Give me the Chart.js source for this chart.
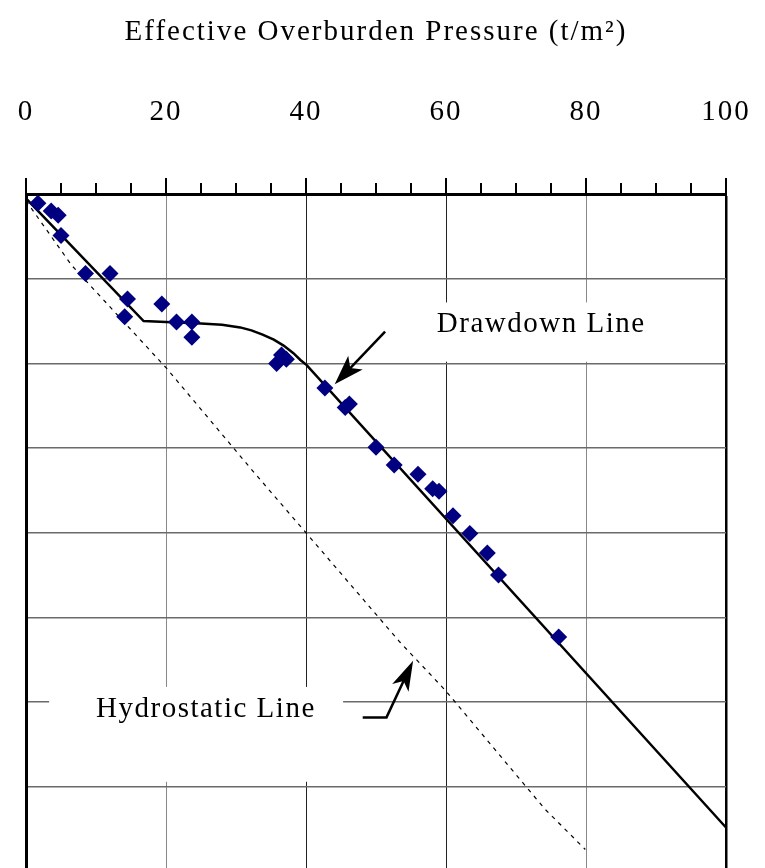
<!DOCTYPE html>
<html>
<head>
<meta charset="utf-8">
<script src="https://cdn.jsdelivr.net/npm/chart.js@4"></script>
<style>
  html, body { margin: 0; padding: 0; overflow: hidden; background: #fff; }
  #wrap { width: 765px; height: 868px; overflow: hidden; }
</style>
</head>
<body>
<div id="wrap"><canvas id="chart" width="765" height="880"></canvas></div>
<script>
// effective overburden pressure (t/m2) vs depth (m)
const measuredPressure = [1.7, 3.6, 4.6, 5.0, 8.5, 12.0, 14.5, 14.1, 19.4, 21.5, 23.7, 23.7,
  36.5, 35.8, 37.2, 42.7, 45.6, 46.2, 50.0, 52.6, 56.0, 58.1, 59.0, 61.0, 63.4, 65.9, 67.5, 76.1];
const measuredDepth = [1.1, 2.0, 2.5, 4.9, 9.4, 9.4, 12.4, 14.5, 13.0, 15.1, 15.1, 16.9,
  19.0, 20.0, 19.5, 22.9, 25.2, 24.8, 29.9, 32.0, 33.1, 34.8, 35.1, 38.0, 40.1, 42.4, 45.0, 52.3];

const drawdownPressure = [0.1, 16.8, 20.0, 25.0, 28.0, 30.6, 32.2, 33.8, 35.4, 36.8, 38.2, 39.2, 40.1, 100];
const drawdownDepth = [0.6, 15.0, 15.1, 15.3, 15.45, 15.75, 16.1, 16.6, 17.2, 17.9, 18.8, 19.6, 20.2, 74.8];

const hydroPressure = [0, 6.5, 20.1, 32.7, 40.0, 53.4, 59.9, 74.1, 79.9];
const hydroDepth = [0.8, 8.4, 20.6, 33.0, 40.0, 52.9, 58.6, 72.6, 77.4];

const pressureLabels = [0, 20, 40, 60, 80, 100];

const FONT = '"Liberation Serif", "Times New Roman", serif';

function toPoints(xs, ys) {
  return xs.map(function(x, i) {
    return { x: x, y: ys[i] };
  });
}

function arrow(ctx, pts, headLen, headW) {
  // pts: pixel points, last one is the tip
  const tip = pts[pts.length - 1];
  const prev = pts[pts.length - 2];
  const ang = Math.atan2(tip.y - prev.y, tip.x - prev.x);
  const bx = tip.x - Math.cos(ang) * headLen * 0.75;
  const by = tip.y - Math.sin(ang) * headLen * 0.75;
  ctx.beginPath();
  ctx.moveTo(pts[0].x, pts[0].y);
  for (let i = 1; i < pts.length - 1; i++) ctx.lineTo(pts[i].x, pts[i].y);
  ctx.lineTo(bx, by);
  ctx.stroke();
  const cx = tip.x - Math.cos(ang) * headLen;
  const cy = tip.y - Math.sin(ang) * headLen;
  ctx.beginPath();
  ctx.moveTo(tip.x, tip.y);
  ctx.lineTo(cx - Math.sin(ang) * headW, cy + Math.cos(ang) * headW);
  ctx.lineTo(bx, by);
  ctx.lineTo(cx + Math.sin(ang) * headW, cy - Math.cos(ang) * headW);
  ctx.closePath();
  ctx.fill();
}

const spacing = {
  id: 'spacing',
  beforeLayout(chart) { chart.ctx.letterSpacing = '2px'; },
  beforeDraw(chart) { chart.ctx.letterSpacing = '2px'; }
};

const notes = {
  id: 'notes',
  beforeDatasetsDraw(chart) {
    const ctx = chart.ctx;
    const x = chart.scales.x, y = chart.scales.y;
    ctx.save();
    ctx.fillStyle = '#fff';
    // label backgrounds break the grid
    ctx.fillRect(x.getPixelForValue(56), y.getPixelForValue(12.8),
      x.getPixelForValue(91) - x.getPixelForValue(56), y.getPixelForValue(19.8) - y.getPixelForValue(12.8));
    ctx.fillRect(x.getPixelForValue(3.3), y.getPixelForValue(58.2),
      x.getPixelForValue(45.3) - x.getPixelForValue(3.3), y.getPixelForValue(69.4) - y.getPixelForValue(58.2));
    ctx.restore();
  },
  afterDatasetsDraw(chart) {
    const ctx = chart.ctx;
    const x = chart.scales.x, y = chart.scales.y;
    const p = function(a, b) { return { x: x.getPixelForValue(a), y: y.getPixelForValue(b) }; };
    ctx.save();
    ctx.letterSpacing = '1.5px';
    ctx.fillStyle = '#000';
    ctx.font = '29px ' + FONT;
    ctx.textAlign = 'center';
    ctx.textBaseline = 'alphabetic';
    let t = p(73.6, 16.26);
    ctx.fillText('Drawdown Line', t.x, t.y);
    t = p(25.7, 61.75);
    ctx.fillText('Hydrostatic Line', t.x, t.y);

    ctx.strokeStyle = '#000';
    ctx.lineWidth = 2.5;
    ctx.lineCap = 'butt';
    arrow(ctx, [p(51.3, 16.26), p(44.1, 22.47)], 30, 10);
    arrow(ctx, [p(48.1, 61.8), p(51.5, 61.8), p(55.3, 55.1)], 30, 9);

    // tick marks above the top axis
    ctx.lineWidth = 2;
    x.ticks.forEach(function(tk) {
      const px = x.getPixelForValue(tk.value);
      const len = tk.value % 20 === 0 ? 16 : 11;
      ctx.beginPath();
      ctx.moveTo(px, x.bottom);
      ctx.lineTo(px, x.bottom - len);
      ctx.stroke();
    });
    ctx.restore();
  }
};

new Chart(document.getElementById('chart'), {
  type: 'scatter',
  data: {
    datasets: [
      {
        label: 'Measured',
        data: toPoints(measuredPressure, measuredDepth),
        pointStyle: 'rectRot',
        pointRadius: 8.5,
        pointBackgroundColor: '#000080',
        pointBorderColor: '#000080',
        pointBorderWidth: 0
      },
      {
        label: 'Drawdown Line',
        data: toPoints(drawdownPressure, drawdownDepth),
        showLine: true,
        borderColor: '#000',
        borderWidth: 2.5,
        pointRadius: 0,
        tension: 0
      },
      {
        label: 'Hydrostatic Line',
        data: toPoints(hydroPressure, hydroDepth),
        showLine: true,
        borderColor: '#000',
        borderWidth: 1.2,
        borderDash: [4, 5],
        pointRadius: 0,
        tension: 0
      }
    ]
  },
  options: {
    responsive: false,
    animation: false,
    devicePixelRatio: 1,
    layout: { autoPadding: false, padding: { left: 26, right: 39, top: 0, bottom: 0 } },
    plugins: { legend: { display: false }, tooltip: { enabled: false } },
    scales: {
      x: {
        type: 'linear',
        position: 'top',
        min: 0,
        max: 100,
        afterFit: function(scale) {
          scale.height = 194;
          scale.paddingLeft = 0;
          scale.paddingRight = 0;
        },
        title: {
          display: true,
          text: 'Effective Overburden Pressure (t/m²)',
          color: '#000',
          font: { family: FONT, size: 29 },
          padding: { top: 15, bottom: 0 }
        },
        ticks: {
          stepSize: 5,
          autoSkip: false,
          maxRotation: 0,
          padding: 64,
          color: '#000',
          font: { family: FONT, size: 29 },
          callback: function(v) { return pressureLabels.indexOf(v) >= 0 ? String(v) : ''; }
        },
        grid: {
          drawTicks: false,
          color: function(c) {
            const v = c.tick ? c.tick.value : -1;
            if (v === 100) return '#000';
            if (v === 40 || v === 60) return '#222';
            if (v === 20 || v === 80) return '#888';
            return 'rgba(0,0,0,0)';
          },
          lineWidth: function(c) {
            return c.tick && c.tick.value === 100 ? 2.5 : 1;
          }
        },
        border: { display: true, color: '#000', width: 3 }
      },
      y: {
        type: 'linear',
        reverse: true,
        min: 0,
        max: 81,
        afterFit: function(scale) { scale.width = 0; },
        ticks: { display: false, stepSize: 10 },
        grid: {
          drawTicks: false,
          color: function(c) { return c.tick && c.tick.value === 0 ? 'rgba(0,0,0,0)' : '#6a6a6a'; },
          lineWidth: 1.5
        },
        border: { display: true, color: '#000', width: 3 }
      }
    }
  },
  plugins: [spacing, notes]
});
</script>
</body>
</html>
